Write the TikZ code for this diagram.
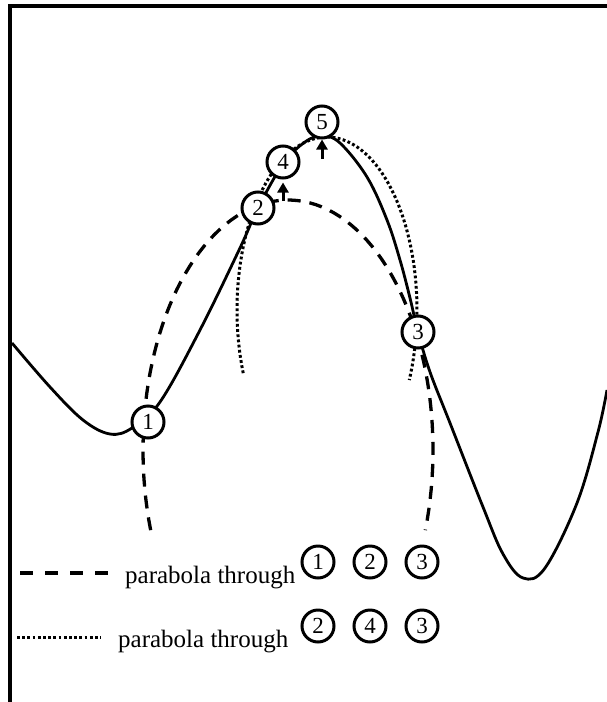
\documentclass[tikz,border=0pt]{standalone}
\usepackage{fontspec}
\setmainfont{Liberation Serif}
\usetikzlibrary{arrows.meta}

\tikzset{
  ptcircle/.style={circle, draw, line width=3pt, fill=white, minimum size=32pt,
    inner sep=0pt, font=\fontsize{23}{23}\selectfont},
  fncurve/.style={line width=2.8pt},
  dashcurve/.style={line width=3.3pt, dash pattern=on 13pt off 9pt},
  dotcurve/.style={line width=3pt, dash pattern=on 2.8pt off 2.4pt},
  legendtext/.style={font=\fontsize{25}{25}\selectfont, anchor=base west, inner sep=0pt},
  uparrow/.style={-{Triangle[length=10pt,width=11pt]}, line width=3pt},
}

\begin{document}
\begin{tikzpicture}[x=1pt, y=-1pt]
  \useasboundingbox (0,0) rectangle (607,702);

  % ---- FRAME ----
  \draw[line width=4pt] (10,702) -- (10,6) -- (607,6);

  % ---- FUNCTION ----
  \draw[fncurve] plot[smooth, tension=0.6] coordinates {
    (12,343) (50,387) (83,420) (110,434) (132,428) (160,402) (200,330)
    (240,248) (258,208) (283,164) (305,142) (322,136) (340,143) (367,177)
    (387,220) (400,260) (410,298) (418,332) (430,372) (450,423) (483,507)
    (503,554) (523,578) (545,568) (577,503) (598,432) (607,390)};

  % ---- PARABOLAS ----
  \draw[dashcurve] plot[domain=198.7:-18.7, samples=90]
    ({288+145*cos(\x)}, {450-250*sin(\x)});
  \draw[dotcurve] plot[domain=201.4:-23.9, samples=90]
    ({327+90*cos(\x)}, {310-173*sin(\x)});

  % ---- POINTS ----
  \node[ptcircle] (p1) at (148,422) {1};
  \node[ptcircle] (p2) at (258,208) {2};
  \node[ptcircle] (p3) at (418,332) {3};
  \node[ptcircle] (p4) at (283,162) {4};
  \node[ptcircle] (p5) at (322,122) {5};

  % ---- ARROWS ----
  \coordinate (peakA) at (283,201);
  \coordinate (peakB) at (322,159);
  \draw[uparrow, shorten >=3pt] (peakA) -- (p4);
  \draw[uparrow] (peakB) -- (p5);

  % ---- LEGEND ----
  \coordinate (dashL) at (20,573);
  \coordinate (dashR) at (112,573);
  \draw[dashcurve, dash pattern=on 13pt off 12pt] (dashL) -- (dashR);
  \node[legendtext] (lbldash) at (125,583) {parabola through};
  \node[ptcircle] (ka1) at (318,562) {1};
  \node[ptcircle] (ka2) at (370,562) {2};
  \node[ptcircle] (ka3) at (422,562) {3};

  \coordinate (dotL) at (17,637);
  \coordinate (dotR) at (101,637);
  \draw[dotcurve] (dotL) -- (dotR);
  \node[legendtext] (lbldot) at (118,647) {parabola through};
  \node[ptcircle] (kb2) at (318,626) {2};
  \node[ptcircle] (kb4) at (370,626) {4};
  \node[ptcircle] (kb3) at (422,626) {3};
\end{tikzpicture}
\end{document}
